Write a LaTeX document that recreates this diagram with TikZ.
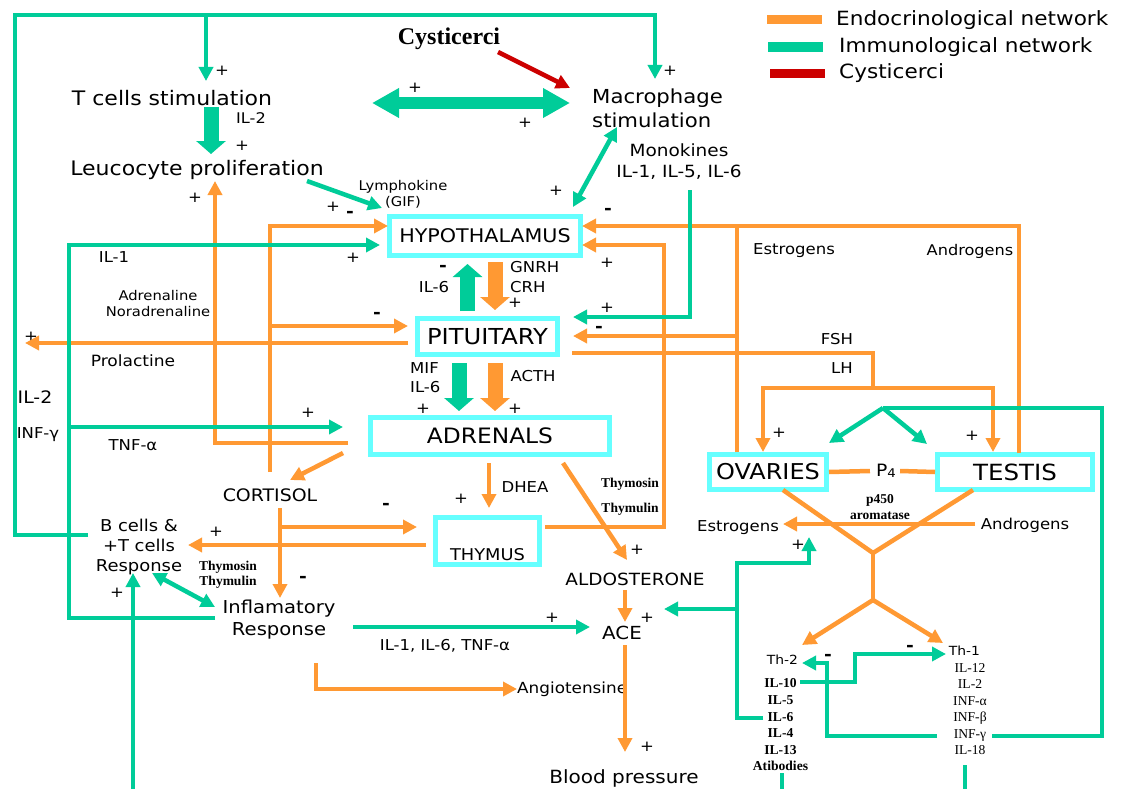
\documentclass[tikz,border=0pt]{standalone}
\usepackage{fontspec}
\setmainfont[FakeStretch=1.1]{DejaVu Sans}
\newfontfamily\tms{Liberation Serif}
\usetikzlibrary{arrows.meta}

\definecolor{endoc}{HTML}{FF9933}
\definecolor{immc}{HTML}{00CC99}
\definecolor{glandc}{HTML}{66FFFF}
\definecolor{cystc}{HTML}{CC0000}

\begin{document}
\begin{tikzpicture}[x=1pt,y=-1pt,
	fs/.style 2 args={font=\fontsize{#1}{#2}\selectfont},
	tx/.style={inner sep=0pt,align=center},
	tb/.style={inner sep=0pt,align=center,font=\tms\bfseries\fontsize{13.5}{15.5}\selectfont},
	pl/.style={inner sep=0pt,font=\fontsize{15}{15}\selectfont},
	mi/.style={inner sep=0pt,font=\bfseries\fontsize{17}{17}\selectfont},
	gland/.style={draw=glandc,line width=5pt,inner sep=0pt},
	endo/.style={draw=endoc,line width=4.5pt},
	immu/.style={draw=immc,line width=4.5pt},
	arr/.style={-{Triangle[length=14pt,width=14pt]}},
	dbl/.style={{Triangle[length=14pt,width=14pt]}-{Triangle[length=14pt,width=14pt]}},
	fat/.style={line width=15pt,-{Triangle[length=13pt,width=29pt]}}]
	
	\fill[white] (0,0) rectangle (1121,789);
	\useasboundingbox (0,0) rectangle (1121,789);
	
	% legend
	\node[fill=endoc,minimum width=55pt,minimum height=9pt,inner sep=0pt] (keyendo) at (794.5,19.5) {};
	\node[fill=immc,minimum width=55pt,minimum height=10pt,inner sep=0pt] (keyimmu) at (795.5,47) {};
	\node[fill=cystc,minimum width=55pt,minimum height=9pt,inner sep=0pt] (keycyst) at (797.5,73.5) {};
	\node[tx,fs={19.6}{23},anchor=west] (keyendotxt) at (836,20) {Endocrinological network};
	\node[tx,fs={19.6}{23},anchor=west] (keyimmutxt) at (839,47) {Immunological network};
	\node[tx,fs={19.6}{23},anchor=west] (keycysttxt) at (839,73) {Cysticerci};
	
	% glands
	\node[gland,fs={18.8}{22},minimum width=191pt,minimum height=39pt] (hyp) at (485,236) {HYPOTHALAMUS};
	\node[gland,fs={22}{24},minimum width=140pt,minimum height=36pt] (pit) at (487.5,336.5) {PITUITARY};
	\node[gland,fs={21.2}{24},minimum width=239pt,minimum height=37pt] (adr) at (490,436) {ADRENALS};
	\node[gland,fs={16.2}{20},minimum width=104pt,minimum height=47pt] (thy) at (487.5,541) {\raisebox{-19pt}[0pt][0pt]{THYMUS}};
	\node[gland,fs={21.8}{24},minimum width=117pt,minimum height=35pt] (ova) at (768,472) {OVARIES};
	\node[gland,fs={22.3}{24},minimum width=155pt,minimum height=35pt] (tes) at (1015,472) {TESTIS};
	
	% texts
	\node[tx,fs={20}{24}] (tcell) at (172,98) {T cells stimulation};
	\node[tx,fs={20}{24}] (leuco) at (197,170) {Leucocyte proliferation};
	\node[tx,fs={19.3}{24},align=left,anchor=west] (macro) at (592,108) {Macrophage\\stimulation};
	\node[tx,font=\tms\bfseries\fontsize{24}{24}\selectfont] (cyst) at (449,39) {Cysticerci};
	\node[tx,fs={13.4}{16}] (lymph) at (403,194) {Lymphokine\\(GIF)};
	\node[tx,fs={16.8}{21}] (monok) at (679,162) {Monokines\\IL-1, IL-5, IL-6};
	\node[tx,fs={13.4}{16}] (adrenaline) at (158,304) {Adrenaline\\Noradrenaline};
	\node[tx,fs={15.5}{18}] (prolac) at (133,361) {Prolactine};
	\node[tx,fs={15}{18}] (ilone) at (114,257) {IL-1};
	\node[tx,fs={17.2}{20}] (iltwoleft) at (35,397) {IL-2};
	\node[tx,fs={15}{18}] (infg) at (38,435) {INF-γ};
	\node[tx,fs={15}{18}] (tnfa) at (133,445) {TNF-α};
	\node[tx,fs={14.7}{18}] (iltwotop) at (251,118) {IL-2};
	\node[tx,fs={15}{18}] (ilsixa) at (434,287) {IL-6};
	\node[tx,fs={15}{20},align=left,anchor=west] (gnrh) at (510,277) {GNRH\\CRH};
	\node[tx,fs={15}{19},align=left,anchor=west] (mif) at (410,378) {MIF\\IL-6};
	\node[tx,fs={15}{18}] (acth) at (533,376) {ACTH};
	\node[tx,fs={15}{18}] (dhea) at (525,487) {DHEA};
	\node[tx,fs={17.2}{20}] (cort) at (270,495) {CORTISOL};
	\node[tx,fs={16.3}{20}] (bcell) at (139,547) {B cells \&\\+T cells\\Response};
	\node[tx,fs={17.8}{22}] (inflam) at (279,620) {Inflamatory\\Response};
	\node[tb] (thyhormb) at (228,575) {Thymosin\\Thymulin};
	\node[tx,font=\tms\bfseries\fontsize{13.5}{25}\selectfont] (thyhorma) at (630,497) {Thymosin\\Thymulin};
	\node[tx,fs={16.8}{20}] (aldo) at (635,579) {ALDOSTERONE};
	\node[tx,fs={18}{20}] (ace) at (622,633) {ACE};
	\node[tx,fs={18.2}{20}] (bp) at (624,778) {Blood pressure};
	\node[tx,fs={15.3}{18},anchor=west] (angio) at (517,689) {Angiotensine};
	\node[tx,fs={15}{18}] (cytok) at (445,646) {IL-1, IL-6, TNF-α};
	\node[tx,fs={15}{18}] (estro) at (794,251) {Estrogens};
	\node[tx,fs={14.7}{18}] (andro) at (970,251) {Androgens};
	\node[tx,fs={15}{18}] (fsh) at (837,339) {FSH};
	\node[tx,fs={15}{18}] (lh) at (842,368) {LH};
	\node[tx,fs={17}{18}] (pfour) at (886,471) {P\raisebox{-1.5pt}{\fontsize{12}{12}\selectfont 4}};
	\node[tb] (arom) at (880,507) {p450\\aromatase};
	\node[tx,fs={15}{18}] (estrob) at (738,528) {Estrogens};
	\node[tx,fs={15}{18}] (androb) at (1025,525) {Androgens};
	\node[tx,fs={12.6}{15}] (thtwo) at (782.5,660) {Th-2};
	\node[tx,font=\tms\bfseries\fontsize{13.6}{16.6}\selectfont] (thtwolist) at (780.5,725) {IL-10\\IL-5\\IL-6\\IL-4\\IL-13\\Atibodies};
	\node[tx,fs={12.6}{15}] (thone) at (964.5,651) {Th-1};
	\node[tx,font=\tms\fontsize{13.6}{16.4}\selectfont] (thonelist) at (970,709) {IL-12\\IL-2\\INF-α\\INF-β\\INF-γ\\IL-18};
	
	% signs
	\foreach \px/\py [count=\i] in {222/71, 242/146, 195/198, 415/88, 525/123, 670/71, 556/191,
		333/207, 353/258, 607/263, 31/337, 607/308, 308/413, 515/303, 423/409, 515/409, 461/499,
		216/532, 117/593, 552/618, 637/550, 647/618, 647/747, 798/545, 779/433, 972/436}
		\node[pl] (plus\i) at (\px,\py) {+};
	\foreach \mx/\my [count=\i] in {350/214, 608/211, 599/329, 377/315, 443/268, 386/506,
		303/579, 828/657, 910/648}
		\node[mi] (minus\i) at (\mx,\my) {-};
	
	% coordinates
	\coordinate (bcleft) at (88,535);
	\coordinate (frame) at (15,15);
	\coordinate (macin) at (655,79);
	\coordinate (tcfork) at (206,15);
	\coordinate (tcin) at (206,81);
	\coordinate (tcout) at (211,107);
	\coordinate (leucoin) at (211,154);
	\coordinate (dblleft) at (372,103);
	\coordinate (dblright) at (570,103);
	\coordinate (leucoout) at (307,181);
	\coordinate (hyplymph) at (382,208);
	\coordinate (macout) at (617,127);
	\coordinate (hypmono) at (573,207);
	\coordinate (inflleft) at (215,618);
	\coordinate (railil) at (69,245);
	\coordinate (hypil) at (380,245);
	\coordinate (railadr) at (69,427);
	\coordinate (adrin) at (343,427);
	\coordinate (monoout) at (690,190);
	\coordinate (pitmono) at (573,317);
	\coordinate (inflright) at (353,627);
	\coordinate (acecyt) at (590,627);
	\coordinate (bcresp) at (152,573);
	\coordinate (inflresp) at (215,607);
	\coordinate (botleft) at (133,791);
	\coordinate (bcup) at (133,573);
	\coordinate (atibot) at (782,773);
	\coordinate (ilbot) at (965,765);
	\coordinate (botright) at (965,791);
	\coordinate (iltenout) at (800,682);
	\coordinate (iltenbend) at (855,654);
	\coordinate (thonein) at (946,654);
	\coordinate (infgleft) at (937,736);
	\coordinate (thtwobend) at (827,663);
	\coordinate (thtwoin) at (802,663);
	\coordinate (infgright) at (992,736);
	\coordinate (gonadrail) at (1102,408);
	\coordinate (gonadfork) at (883,408);
	\coordinate (ovaimm) at (829,443);
	\coordinate (tesimm) at (927,444);
	\coordinate (ilsixout) at (763,718);
	\coordinate (ilsixrail) at (737,563);
	\coordinate (estroimm) at (809,537);
	\coordinate (acefork) at (737,609);
	\coordinate (aceimm) at (664,609);
	
	\coordinate (adrleft) at (348,443);
	\coordinate (leucoendo) at (215,181);
	\coordinate (cortup) at (270,472);
	\coordinate (hypcort) at (388,226);
	\coordinate (cortfork) at (270,326);
	\coordinate (pitcort) at (408,326);
	\coordinate (pitleft) at (408,343);
	\coordinate (prolout) at (25,343);
	\coordinate (adrcort) at (343,453);
	\coordinate (cortin) at (290,480);
	\coordinate (cortdown) at (280,508);
	\coordinate (inflin) at (280,598);
	\coordinate (thyfork) at (280,527);
	\coordinate (thyin) at (417,527);
	\coordinate (thyleft) at (426,545);
	\coordinate (bcin) at (188,545);
	\coordinate (dheaout) at (489,463);
	\coordinate (dheain) at (489,508);
	\coordinate (aldoout) at (563,463);
	\coordinate (aldoin) at (627,560);
	\coordinate (thyright) at (545,527);
	\coordinate (thyrail) at (664,245);
	\coordinate (hypthy) at (582,245);
	\coordinate (testop) at (1019,453);
	\coordinate (hypgon) at (582,226);
	\coordinate (ovatop) at (737,452);
	\coordinate (ovajoin) at (737,226);
	\coordinate (ovafork) at (737,336);
	\coordinate (pitgon) at (573,336);
	\coordinate (pitright) at (572,353);
	\coordinate (lhdrop) at (873,388);
	\coordinate (ovain) at (763,452);
	\coordinate (tesin) at (993,452);
	\coordinate (ovabot) at (783,490);
	\coordinate (tesbot) at (973,490);
	\coordinate (vmeet) at (873,553);
	\coordinate (thfork) at (873,600);
	\coordinate (thtwoendo) at (802,645);
	\coordinate (thoneendo) at (943,643);
	\coordinate (androout) at (975,524);
	\coordinate (estroin) at (783,524);
	\coordinate (aldodown) at (625,590);
	\coordinate (aceendo) at (625,622);
	\coordinate (aceout) at (625,645);
	\coordinate (bpin) at (625,752);
	\coordinate (inflangio) at (316,663);
	\coordinate (cystout) at (498,52);
	\coordinate (cystin) at (570,88);
	
	% endocrinological network
	\draw[endo,arr] (adrleft) -| (leucoendo);
	\draw[endo,arr] (cortup) |- (hypcort);
	\draw[endo,arr] (cortfork) -- (pitcort);
	\draw[endo,arr] (pitleft) -- (prolout);
	\draw[endo,arr] (adrcort) -- (cortin);
	\draw[endo,arr] (cortdown) -- (inflin);
	\draw[endo,arr] (thyfork) -- (thyin);
	\draw[endo,arr] (thyleft) -- (bcin);
	\draw[endo,arr] (dheaout) -- (dheain);
	\draw[endo,arr] (aldoout) -- (aldoin);
	\draw[endo,arr] (thyright) -| (thyrail) -- (hypthy);
	\draw[endo,arr] (testop) |- (hypgon);
	\draw[endo] (ovatop) -- (ovajoin);
	\draw[endo,arr] (ovafork) -- (pitgon);
	\draw[endo] (pitright) -| (lhdrop);
	\draw[endo,arr] (lhdrop) -| (ovain);
	\draw[endo,arr] (lhdrop) -| (tesin);
	\draw[endo] (ova.east) -- ([xshift=-6pt]pfour.west);
	\draw[endo] ([xshift=4pt]pfour.east) -- (tes.west);
	\draw[endo] (ovabot) -- (vmeet);
	\draw[endo] (tesbot) -- (vmeet);
	\draw[endo] (vmeet) -- (thfork);
	\draw[endo,arr] (thfork) -- (thtwoendo);
	\draw[endo,arr] (thfork) -- (thoneendo);
	\draw[endo,arr] (androout) -- (estroin);
	\draw[endo,arr] (aldodown) -- (aceendo);
	\draw[endo,arr] (aceout) -- (bpin);
	\draw[endo,arr] (inflangio) |- (angio.west);
	\draw[endoc,fat,shorten <=4pt,shorten >=6pt] ([xshift=7.5pt]pit.north |- hyp.south) -- ([xshift=7.5pt]pit.north);
	\draw[endoc,fat,shorten <=6pt,shorten >=4pt] ([xshift=7.5pt]pit.south) -- ([xshift=7.5pt]pit.south |- adr.north);
	
	% immunological network
	\draw[immu,arr] (bcleft) -| (frame) -| (macin);
	\draw[immu,arr] (tcfork) -- (tcin);
	\draw[immc,fat] (tcout) -- (leucoin);
	\draw[immc,line width=12pt,{Triangle[length=27pt,width=28pt]}-{Triangle[length=27pt,width=28pt]}] (dblleft) -- (dblright);
	\draw[immu,arr] (leucoout) -- (hyplymph);
	\draw[immu,dbl] (macout) -- (hypmono);
	\draw[immu,arr] (inflleft) -| (railil) -- (hypil);
	\draw[immu,arr] (railadr) -- (adrin);
	\draw[immu,arr] (monoout) |- (pitmono);
	\draw[immu,arr] (inflright) -- (acecyt);
	\draw[immu,dbl] (bcresp) -- (inflresp);
	\draw[immu,arr] (botleft) -- (bcup);
	\draw[immu] (botleft) -- (botright);
	\draw[immu] (atibot) -- (atibot |- botright);
	\draw[immu] (ilbot) -- (botright);
	\draw[immu,arr] (iltenout) -| (iltenbend) -- (thonein);
	\draw[immu,arr] (infgleft) -| (thtwobend) -- (thtwoin);
	\draw[immu] (infgright) -| (gonadrail) -- (gonadfork);
	\draw[immu,arr] (gonadfork) -- (ovaimm);
	\draw[immu,arr] (gonadfork) -- (tesimm);
	\draw[immu,arr] (ilsixout) -| (ilsixrail) -| (estroimm);
	\draw[immu,arr] (acefork) -- (aceimm);
	\draw[immc,fat,shorten <=5pt,shorten >=6pt] ([xshift=-20pt]pit.north) -- ([xshift=-20pt]pit.north |- hyp.south);
	\draw[immc,fat,shorten <=6pt,shorten >=4pt] ([xshift=-28.5pt]pit.south) -- ([xshift=-28.5pt]pit.south |- adr.north);
	
	% cysticerci
	\draw[cystc,line width=4.5pt,arr] (cystout) -- (cystin);
	
\end{tikzpicture}
\end{document}
